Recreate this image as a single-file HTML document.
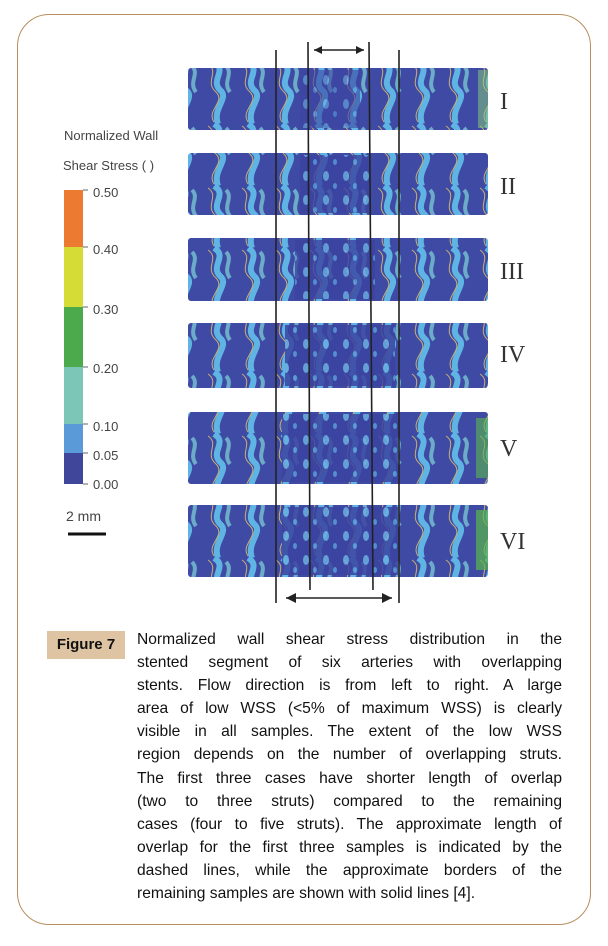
<!DOCTYPE html>
<html><head><meta charset="utf-8"><style>
body{margin:0;background:#fff;width:608px;height:946px;position:relative;overflow:hidden}
.frame{position:absolute;left:17px;top:14px;width:572px;height:909px;border:1.5px solid #b89060;border-radius:32px}
.cap{position:absolute;left:137px;top:628px;width:425px;font-family:"Liberation Sans",sans-serif;font-size:15.6px;color:#111;line-height:23.1px}
.cap div{text-align:justify;text-align-last:justify;white-space:nowrap;height:23.1px}
.cap div.l{text-align-last:left}
.fig{position:absolute;left:47px;top:631px;width:78px;height:28px;background:#dfc4a4;font-family:"Liberation Sans",sans-serif;font-weight:bold;font-size:15px;line-height:28px;text-align:center;color:#111}
</style></head><body>
<div class="frame"></div>
<svg width="608" height="946" style="position:absolute;left:0;top:0" font-family="Liberation Sans, sans-serif">
<defs>
<pattern id="p" x="0" y="0" width="34" height="62" patternUnits="userSpaceOnUse">
<rect width="34" height="62" fill="#3f4aa5"/>
<path d="M10 0 C24 8,6 18,16 28 C26 36,8 46,14 62" stroke="#5fb4e4" stroke-width="6" fill="none"/>
<path d="M22 4 C30 12,18 20,26 30" stroke="#7fd6d8" stroke-width="4" fill="none" opacity=".7"/>
<path d="M4 2 C16 10,0 20,12 30 C22 40,2 48,10 60" stroke="#c8b070" stroke-width="1" fill="none"/>
</pattern>
<pattern id="q" x="0" y="0" width="20" height="24" patternUnits="userSpaceOnUse">
<rect width="20" height="24" fill="#3b43a0"/>
<ellipse cx="6" cy="8" rx="3" ry="5" fill="#6aaee0"/>
<ellipse cx="15" cy="18" rx="2" ry="3" fill="#5a9ad8"/>
</pattern>
</defs>
<g>
<rect x="188" y="68" width="300" height="62" fill="url(#p)" rx="3"/>
<rect x="300" y="70" width="60" height="58" fill="url(#q)" opacity=".6"/>
<rect x="188" y="153" width="300" height="62" fill="url(#p)" rx="3"/>
<rect x="300" y="155" width="70" height="58" fill="url(#q)" opacity=".8"/>
<rect x="188" y="238" width="300" height="63" fill="url(#p)" rx="3"/>
<rect x="295" y="240" width="80" height="59" fill="url(#q)" opacity=".8"/>
<rect x="188" y="323" width="300" height="65" fill="url(#p)" rx="3"/>
<rect x="285" y="325" width="110" height="61" fill="url(#q)" opacity=".85"/>
<rect x="188" y="412" width="300" height="72" fill="url(#p)" rx="3"/>
<rect x="282" y="414" width="116" height="68" fill="url(#q)" opacity=".85"/>
<rect x="188" y="505" width="300" height="72" fill="url(#p)" rx="3"/>
<rect x="282" y="507" width="116" height="68" fill="url(#q)" opacity=".85"/>
<rect x="478" y="70" width="10" height="58" fill="#8ad07a" opacity=".5"/>
<rect x="476" y="510" width="12" height="60" fill="#5ab84a" opacity=".7"/>
<rect x="476" y="418" width="12" height="60" fill="#5ab84a" opacity=".6"/>
</g>
<g stroke="#222" stroke-width="1.6">
<line x1="276" y1="50" x2="276" y2="603"/>
<line x1="399" y1="50" x2="399" y2="603"/>
<line x1="308" y1="42" x2="310" y2="590"/>
<line x1="369" y1="42" x2="373" y2="590"/>
<line x1="314" y1="50" x2="364" y2="50"/>
<line x1="286" y1="598" x2="392" y2="598"/>
</g>
<path d="M314 50 l8 -4 v8 z M364 50 l-8 -4 v8 z M286 598 l10 -5 v10 z M392 598 l-10 -5 v10 z" fill="#222"/>
<g font-family="Liberation Serif, serif" font-size="24" fill="#333">
<text x="500" y="109">I</text><text x="500" y="194">II</text><text x="500" y="279">III</text>
<text x="500" y="362">IV</text><text x="500" y="456">V</text><text x="500" y="549">VI</text>
</g>
<g font-size="13" fill="#444">
<text x="64" y="140">Normalized Wall</text>
<text x="63" y="170">Shear Stress ( )</text>
<text x="93" y="197">0.50</text><text x="93" y="254">0.40</text><text x="93" y="314">0.30</text>
<text x="93" y="373">0.20</text><text x="93" y="431">0.10</text><text x="93" y="460">0.05</text><text x="93" y="489">0.00</text>
<text x="66" y="521" font-size="14">2 mm</text>
</g>
<rect x="64" y="190" width="19" height="57" fill="#ec7a30"/>
<rect x="64" y="247" width="19" height="60" fill="#d6dc36"/>
<rect x="64" y="307" width="19" height="60" fill="#4caa4c"/>
<rect x="64" y="367" width="19" height="57" fill="#7cc6b8"/>
<rect x="64" y="424" width="19" height="29" fill="#5a9ad8"/>
<rect x="64" y="453" width="19" height="31" fill="#40479a"/>
<g stroke="#666" stroke-width="1"><line x1="83" y1="190" x2="88" y2="190"/><line x1="83" y1="247" x2="88" y2="247"/><line x1="83" y1="307" x2="88" y2="307"/><line x1="83" y1="367" x2="88" y2="367"/><line x1="83" y1="424" x2="88" y2="424"/><line x1="83" y1="453" x2="88" y2="453"/><line x1="83" y1="484" x2="88" y2="484"/></g>
<line x1="68" y1="534" x2="106" y2="534" stroke="#111" stroke-width="3"/>
</svg>
<div class="fig">Figure 7</div>
<div class="cap">
<div>Normalized wall shear stress distribution in the</div>
<div>stented segment of six arteries with overlapping</div>
<div>stents. Flow direction is from left to right. A large</div>
<div>area of low WSS (&lt;5% of maximum WSS) is clearly</div>
<div>visible in all samples. The extent of the low WSS</div>
<div>region depends on the number of overlapping struts.</div>
<div>The first three cases have shorter length of overlap</div>
<div>(two to three struts) compared to the remaining</div>
<div>cases (four to five struts). The approximate length of</div>
<div>overlap for the first three samples is indicated by the</div>
<div>dashed lines, while the approximate borders of the</div>
<div class="l">remaining samples are shown with solid lines [4].</div>
</div>
</body></html>
